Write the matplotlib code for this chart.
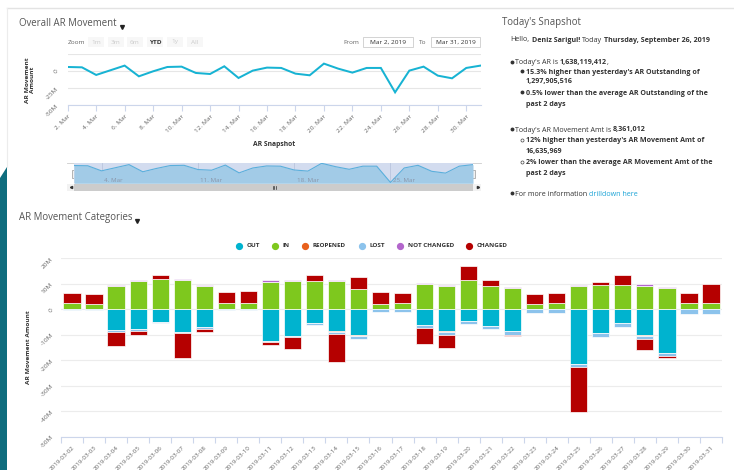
import matplotlib
matplotlib.use('Agg')
import matplotlib.pyplot as plt
from matplotlib.patches import Rectangle, Polygon
import numpy as np

plt.rcParams['font.family'] = ['Open Sans', 'DejaVu Sans']

# ---------------- data ----------------
dates = [f'2019-03-{d:02d}' for d in range(2, 32)]
line_labels = ['2. Mar', '4. Mar', '6. Mar', '8. Mar', '10. Mar', '12. Mar', '14. Mar', '16. Mar',
               '18. Mar', '20. Mar', '22. Mar', '24. Mar', '26. Mar', '28. Mar', '30. Mar']
nav_labels = ['4. Mar', '11. Mar', '18. Mar', '25. Mar']
nav_label_idx = [2, 9, 16, 23]

# net AR movement (millions)
net_movement = [5.8, 5.3, -5.8, 1.0, 7.8, -7.8, -0.5, 5.8, 6.3, -2.9, -4.4, 6.8, -10.2, 0.5, 4.9,
                4.4, -3.9, -6.3, 10.7, 3.4, -2.4, 4.4, 4.4, -31.1, 0.5, 6.3, -6.8, -10.7, 4.4, 7.8]

series_names = ['OUT', 'IN', 'REOPENED', 'LOST', 'NOT CHANGED', 'CHANGED']
series_colors = ['#00b3cf', '#7ec81e', '#e8601c', '#8cc3ec', '#b366cc', '#b50000']

out_vals = [0, 0, -8.3, -7.9, -5.0, -8.9, -7.0, 0, 0, -12.3, -10.4, -5.3, -8.7, -10.3, 0,
            0, -6.1, -8.4, -4.5, -6.4, -8.7, 0, 0, -21.6, -9.5, -5.5, -10.0, -17.1, 0, 0]
in_vals = [2.5, 2.1, 9.1, 11.05, 12.0, 11.4, 9.1, 2.4, 2.4, 10.8, 11.0, 10.9, 10.9, 7.9, 2.1,
           2.5, 10.0, 9.1, 11.4, 9.2, 8.4, 2.0, 2.4, 9.1, 9.6, 9.7, 9.3, 8.3, 2.5, 2.5]
reopened_vals = [0, 0, 0, 0, 0, 0, 0, 0, 0, 0, 0, 0, -0.3, -0.3, 0,
                 0, 0, -0.4, 0, 0, 0, 0, 0, 0, 0, 0, -0.4, 0, 0, 0]
lost_vals = [-0.5, -0.5, -0.5, -0.5, -0.4, -0.6, -0.7, -0.5, -0.5, -0.6, -0.5, -0.9, -0.8, -1.2, -1.2,
             -1.2, -1.3, -1.2, -1.4, -1.2, -1.4, -1.3, -1.6, -1.2, -1.3, -1.3, -1.3, -1.2, -1.8, -1.8]
not_changed_vals = [0, 0, 0.5, 0.5, 0, 0.5, 0.5, 0, 0, 0.5, 0.5, 0, 0.5, 0, 0,
                    0, 0.4, 0.5, 0, 0, 0.4, 0, 0, 0.5, 0, 0, 0.5, 0.5, 0, 0]
changed_vals = [3.9, 3.9, -5.8, -1.7, 1.6, -9.5, -1.4, 4.5, 4.6, -1.0, -4.7, 2.6, -11.1, 4.7, 4.6,
                3.8, -6.2, -5.1, 5.4, 2.2, -0.6, 4.1, 4.1, -17.6, 1.2, 3.9, -4.5, -0.9, 3.9, 7.5]
series_vals = [out_vals, in_vals, reopened_vals, lost_vals, not_changed_vals, changed_vals]

bar_yticks = [20, 10, 0, -10, -20, -30, -40, -50]
bar_ylabels = ['20M', '10M', '0', '-10M', '-20M', '-30M', '-40M', '-50M']
line_yticks = [25, 0, -25, -50]
line_ylabels = ['', '0', '-25M', '-50M']
zoom_buttons = ['1m', '3m', '6m', 'YTD', '1y', 'All']

# ---------------- figure ----------------
W, H = 734, 470
fig = plt.figure(figsize=(W / 100, H / 100), dpi=100)
renderer = fig.canvas.get_renderer()


def px(s):
    return s * 0.72


def px_axes(x0, y0, x1, y1):
    a = fig.add_axes([x0 / W, 1 - y1 / H, (x1 - x0) / W, (y1 - y0) / H])
    a.patch.set_alpha(0)
    return a


bg = fig.add_axes([0, 0, 1, 1])
bg.set_xlim(0, W)
bg.set_ylim(H, 0)
bg.axis('off')

GRAY = '#666666'
DARK = '#333333'

# dashboard decorations
bg.add_patch(Polygon([(0, 178), (7, 167), (7, 470), (0, 470)], closed=True, color='#0f6d7e', lw=0))
bg.plot([7, 734], [8, 8], color='#e3e3e3', lw=1)
bg.plot([7, 7], [8, 167], color='#ececec', lw=0.8)

# titles
bg.text(19, 23, 'Overall AR Movement', fontsize=px(9.6), color='#555555', va='center')
bg.plot(122, 26.5, marker='v', ms=2.8, color='#222222')
bg.text(19, 217.5, 'AR Movement Categories', fontsize=px(9.6), color='#555555', va='center')
bg.plot(136.5, 220.5, marker='v', ms=2.8, color='#222222')
bg.text(501.5, 23, "Today's Snapshot", fontsize=px(9.6), color='#555555', va='center')

# zoom buttons
bg.text(67.5, 42, 'Zoom', fontsize=px(6.5), color=GRAY, va='center')
bx = [88, 107.5, 127, 147, 167, 187]
for lab, x0 in zip(zoom_buttons, bx):
    bg.add_patch(Rectangle((x0, 36.7), 16, 10.6, color='#f7f7f7', lw=0))
    if lab == 'YTD':
        bg.text(x0 + 8, 42, lab, fontsize=px(6.5), color=DARK, weight='bold', ha='center', va='center')
    else:
        bg.text(x0 + 8, 42, lab, fontsize=px(6.5), color='#cccccc', ha='center', va='center')

bg.text(343, 42, 'From', fontsize=px(6.5), color=GRAY, va='center')
bg.add_patch(Rectangle((362.7, 36.7), 50, 10.6, facecolor='white', edgecolor='#cccccc', lw=0.6))
bg.text(387.7, 42, 'Mar 2, 2019', fontsize=px(6.5), color=DARK, ha='center', va='center')
bg.text(419, 42, 'To', fontsize=px(6.5), color=GRAY, va='center')
bg.add_patch(Rectangle((430.7, 36.7), 49.5, 10.6, facecolor='white', edgecolor='#cccccc', lw=0.6))
bg.text(455.5, 42, 'Mar 31, 2019', fontsize=px(6.5), color=DARK, ha='center', va='center')

# ---------------- top line chart ----------------
xi = np.arange(len(dates))
ax1 = px_axes(67.7, 53.8, 480.5, 105.3)
ax1.plot(xi, net_movement, color='#17b3d3', lw=px(2), zorder=3, solid_joinstyle='miter')
ax1.set_xlim(0, 29)
ax1.set_ylim(-50, 25)
ax1.set_yticks(line_yticks)
ax1.set_yticklabels(line_ylabels)
ax1.grid(axis='y', color='#e6e6e6', lw=0.8)
for s in ['top', 'right', 'left']:
    ax1.spines[s].set_visible(False)
ax1.spines['bottom'].set_color('#ccd6eb')
ax1.spines['bottom'].set_linewidth(0.8)
ax1.set_xticks(np.arange(0, 29, 2))
ax1.set_xticklabels(line_labels, rotation=45, ha='right', rotation_mode='anchor')
ax1.tick_params(axis='x', length=4, color='#ccd6eb', width=0.8, labelsize=px(6.5), labelcolor=GRAY, pad=2)
ax1.tick_params(axis='y', length=0, labelsize=px(6.5), labelcolor=GRAY, labelrotation=45, pad=6)

bg.text(30, 80, 'AR Movement\nAmount', rotation=90, ha='center', va='center', fontsize=px(6.5),
        weight='bold', color=DARK, linespacing=0.95)
bg.text(274, 144, 'AR Snapshot', ha='center', va='center', fontsize=px(6.8), weight='bold', color=DARK)

# ---------------- navigator ----------------
nav = px_axes(74, 162.7, 473, 183.3)
nav.set_facecolor('#d3dcef')
nav.patch.set_alpha(1)
nav.fill_between(xi, net_movement, -33, color='#a2cbe7', lw=0, zorder=2)
nav.plot(xi, net_movement, color='#5aafdc', lw=0.8, zorder=3)
for i, lab in zip(nav_label_idx, nav_labels):
    nav.axvline(i, color='#b9c5de', lw=0.6, zorder=1)
    nav.text(i + 0.18, -26, lab, fontsize=px(6.3), color='#8a96aa', va='center', zorder=4)
nav.set_xlim(0, 29)
nav.set_ylim(-33, 12)
nav.set_xticks([])
nav.set_yticks([])
for s in nav.spines.values():
    s.set_visible(False)
bg.plot([67, 481], [162.5, 162.5], color='#cccccc', lw=0.6)
for hx in [74, 473]:
    bg.add_patch(Rectangle((hx - 2, 169.5), 4, 8, facecolor='#f2f2f2', edgecolor='#999999', lw=0.5, zorder=5))
# scrollbar
bg.add_patch(Rectangle((67, 183.5), 414, 7, color='#f2f2f2', lw=0))
bg.add_patch(Rectangle((74, 183.5), 399, 7, color='#cccccc', lw=0))
for gx in [272.5, 274, 275.5]:
    bg.plot([gx, gx], [185.5, 188.5], color='#333333', lw=0.5)
bg.plot(70.5, 187, marker='<', ms=1.6, color='#333333')
bg.plot(477.5, 187, marker='>', ms=1.6, color='#333333')

# ---------------- right panel text ----------------
BODY_PX = 7.2
BODY = px(BODY_PX)
SP_PX = 0.26 * BODY_PX


def rich(x, y, parts, size=BODY):
    cx = x
    for txt, bold, color in parts:
        lead = txt.startswith(' ')
        t = txt.lstrip(' ')
        if lead:
            cx += SP_PX
        tt = bg.text(cx, y, t, va='baseline', ha='left', fontsize=size,
                     weight='bold' if bold else 'normal', color=color)
        bb = tt.get_window_extent(renderer)
        cx += bb.width


def bullet(x, y, hollow=False):
    if hollow:
        bg.plot(x, y, marker='o', ms=2.2, mfc='white', mec='#444444', mew=0.5)
    else:
        bg.plot(x, y, marker='o', ms=1.8, color='#333333')


def yb(c):
    return c + 2.5


rich(510.7, yb(39), [('Hello,', False, DARK), (' Deniz Sarigul!', True, DARK), (' Today', False, DARK),
                     (' Thursday, September 26, 2019', True, DARK)])
bullet(511.5, 61.7)
rich(515, yb(61.7), [("Today's AR is", False, DARK), (' 1,638,119,412', True, DARK), (',', False, DARK)])
bullet(521.5, 71)
rich(525.7, yb(71), [("15.3% higher than yesterday's AR Outstanding of", True, DARK)])
rich(525.7, yb(81), [('1,297,905,516', True, DARK)])
bullet(521.5, 92.3)
rich(525.7, yb(92.3), [('0.5% lower than the average AR Outstanding of the', True, DARK)])
rich(525.7, yb(103.3), [('past 2 days', True, DARK)])
bullet(511.5, 129)
rich(515, yb(129), [("Today's AR Movement Amt is", False, DARK), (' 8,361,012', True, DARK)])
bullet(521.5, 140, hollow=True)
rich(525.7, yb(140), [("12% higher than yesterday's AR Movement Amt of", True, DARK)])
rich(525.7, yb(150.7), [('16,635,969', True, DARK)])
bullet(521.5, 161.7, hollow=True)
rich(525.7, yb(161.7), [('2% lower than the average AR Movement Amt of the', True, DARK)])
rich(525.7, yb(172.7), [('past 2 days', True, DARK)])
bullet(511.5, 193.3)
rich(515, yb(193.3), [('For more information', False, DARK), (' drilldown here', False, '#1aa3d6')])

# ---------------- legend ----------------
leg_x = [239, 275.3, 305.3, 361.5, 400, 469.3]
for name, col, lx in zip(series_names, series_colors, leg_x):
    bg.plot(lx, 245.7, marker='o', ms=4.2, color=col)
    bg.text(lx + 7.5, 245.7, name, fontsize=px(6.3), weight='bold', color=DARK, va='center')

# ---------------- bar chart ----------------
ax2 = px_axes(61, 258.3, 722, 436.5)
n = len(dates)
pos_base = np.zeros(n)
neg_base = np.zeros(n)
for vals, col in zip(series_vals, series_colors):
    v = np.array(vals, dtype=float)
    p = np.where(v > 0, v, 0.0)
    q = np.where(v < 0, v, 0.0)
    mp = p > 0
    mq = q < 0
    ax2.bar(xi[mp], p[mp], 0.78, bottom=pos_base[mp], color=col, edgecolor='white', lw=0.5, zorder=3)
    ax2.bar(xi[mq], q[mq], 0.78, bottom=neg_base[mq], color=col, edgecolor='white', lw=0.5, zorder=3)
    pos_base += p
    neg_base += q

ax2.set_xlim(-0.5, n - 0.5)
ax2.set_ylim(-50, 20)
ax2.set_yticks(bar_yticks)
ax2.set_yticklabels(bar_ylabels)
ax2.grid(axis='y', color='#ececec', lw=0.8, zorder=0)
for s in ['top', 'right', 'left']:
    ax2.spines[s].set_visible(False)
ax2.spines['bottom'].set_color('#ccd6eb')
ax2.spines['bottom'].set_linewidth(0.8)
ax2.set_xticks(xi)
ax2.set_xticklabels(dates, rotation=45, ha='right', rotation_mode='anchor')
ax2.set_xticks(np.arange(-0.5, n, 1.0), minor=True)
ax2.tick_params(axis='x', which='major', length=0, labelsize=px(6.3), labelcolor=GRAY, pad=6)
ax2.tick_params(axis='x', which='minor', length=4, color='#ccd6eb', width=0.8)
ax2.tick_params(axis='y', length=0, labelsize=px(6.5), labelcolor=GRAY, labelrotation=45, pad=5)

bg.text(29, 347, 'AR Movement Amount', rotation=90, ha='center', va='center', fontsize=px(6.5),
        weight='bold', color=DARK)

fig.savefig('out.png', dpi=100)
